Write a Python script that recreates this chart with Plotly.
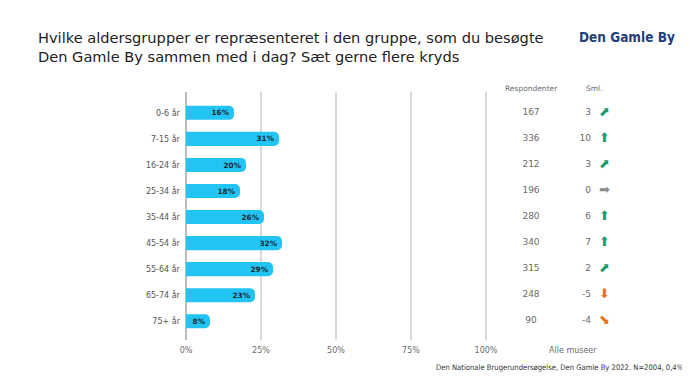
import plotly.graph_objects as go

categories = ["0-6 år", "7-15 år", "16-24 år", "25-34 år", "35-44 år", "45-54 år", "55-64 år", "65-74 år", "75+ år"]
shares = [16, 31, 20, 18, 26, 32, 29, 23, 8]
respondents = [167, 336, 212, 196, 280, 340, 315, 248, 90]
compare = [3, 10, 3, 0, 6, 7, 2, -5, -4]
tick_vals = [0, 25, 50, 75, 100]
tick_text = ["0%", "25%", "50%", "75%", "100%"]

def arrow(v):
    if v >= 5:
        return "⬆", "#1E9B6E"
    if v > 0:
        return "⬈", "#1E9B6E"
    if v == 0:
        return "➡", "#8C8C8C"
    if v <= -5:
        return "⬇", "#E8711A"
    return "⬊", "#E8711A"

arrows = [arrow(v) for v in compare]

# page has an 8px body margin; figure is sized so it fills the 690x389 window
OFF = 8
W, H = 690 - OFF, 389 - OFF
L, T = 186 - OFF, 92 - OFF
B = H - (340 - OFF)
PW, PH = W - L, H - T - B

fig = go.Figure()
fig.add_trace(go.Bar(
    x=shares, y=categories, orientation="h",
    marker=dict(color="#22C4F4", line=dict(width=0)),
    width=0.54,
    text=[f"<b>{v}%</b>" for v in shares], textposition="inside", insidetextanchor="end",
    textfont=dict(family="DejaVu Sans", size=10, color="#1a2a33"),
    constraintext="none",
    cliponaxis=False, hoverinfo="skip",
))
fig.add_trace(go.Scatter(
    x=[115] * len(categories), y=categories, mode="text",
    text=[str(v) for v in respondents], textposition="middle center",
    textfont=dict(family="DejaVu Sans", size=9, color="#6b6b6b"),
    cliponaxis=False, hoverinfo="skip",
))
fig.add_trace(go.Scatter(
    x=[135] * len(categories), y=categories, mode="text",
    text=[str(v) for v in compare], textposition="middle left",
    textfont=dict(family="DejaVu Sans", size=9, color="#6b6b6b"),
    cliponaxis=False, hoverinfo="skip",
))
fig.add_trace(go.Scatter(
    x=[139.5] * len(categories), y=categories, mode="text",
    text=[a[0] for a in arrows], textposition="middle center",
    textfont=dict(family="DejaVu Sans", size=13, color=[a[1] for a in arrows]),
    cliponaxis=False, hoverinfo="skip",
))

def px_x(x):
    return (x - OFF - L) / PW

def px_y(y):
    return 1 - (y - OFF - T) / PH

fig.update_layout(
    width=W, height=H,
    margin=dict(l=L, r=0, t=T, b=B, autoexpand=False),
    paper_bgcolor="white", plot_bgcolor="white",
    showlegend=False,
    barcornerradius=5,
    xaxis=dict(range=[0, 168], tickvals=tick_vals, ticktext=tick_text, automargin=False,
               showgrid=True, gridcolor="#D9D9D9", gridwidth=1.5,
               zeroline=True, zerolinecolor="#BDBDBD", zerolinewidth=1.5,
               showline=False, ticks="", fixedrange=True, ticklabelstandoff=4,
               tickfont=dict(family="DejaVu Sans", size=8, color="#6b6b6b")),
    yaxis=dict(categoryorder="array", categoryarray=categories, automargin=False,
               range=[8.72, -0.8], showgrid=False, zeroline=False, ticks="",
               ticksuffix="  ",
               tickfont=dict(family="DejaVu Sans", size=8, color="#555555")),
    annotations=[
        dict(text="Hvilke aldersgrupper er repræsenteret i den gruppe, som du besøgte<br>Den Gamle By sammen med i dag? Sæt gerne flere kryds",
             xref="paper", yref="paper", x=px_x(36), y=px_y(27),
             xanchor="left", yanchor="top", align="left", showarrow=False,
             font=dict(family="DejaVu Sans", size=14.6, color="#222222")),
        dict(text="<b>Den Gamle By</b>", xref="paper", yref="paper",
             x=px_x(627), y=px_y(37), xanchor="center", yanchor="middle",
             showarrow=False,
             font=dict(family="Liberation Sans Narrow, DejaVu Sans Condensed", size=13.5, color="#1F3F7A")),
        dict(text="Respondenter", xref="x", yref="paper", x=115, y=px_y(88),
             xanchor="center", yanchor="middle", showarrow=False,
             font=dict(family="DejaVu Sans", size=7.5, color="#6b6b6b")),
        dict(text="Sml.", xref="x", yref="paper", x=136, y=px_y(88),
             xanchor="center", yanchor="middle", showarrow=False,
             font=dict(family="DejaVu Sans", size=7.5, color="#6b6b6b")),
        dict(text="Alle museer", xref="x", yref="paper", x=129, y=px_y(350),
             xanchor="center", yanchor="middle", showarrow=False,
             font=dict(family="DejaVu Sans", size=8, color="#6b6b6b")),
        dict(text="Den Nationale Brugerundersøgelse, Den Gamle By 2022. N=2004, 0,4%",
             xref="paper", yref="paper", x=px_x(686), y=px_y(367),
             xanchor="right", yanchor="middle", showarrow=False,
             font=dict(family="Liberation Sans Narrow, DejaVu Sans Condensed", size=7.6, color="#333333")),
    ],
)

fig.write_html("out.html")
